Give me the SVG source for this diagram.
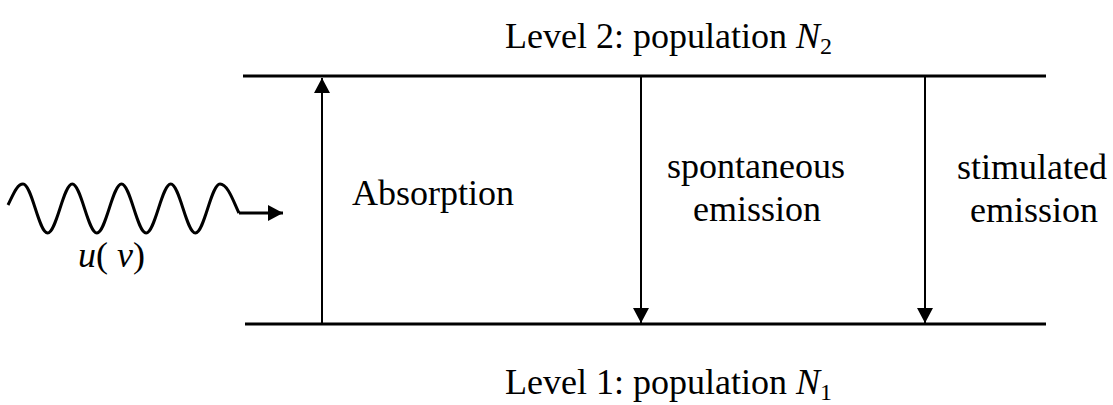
<svg xmlns="http://www.w3.org/2000/svg" width="1113" height="405" viewBox="0 0 1113 405">
<style>
.t{font-family:"Liberation Serif","Times New Roman",serif;font-size:36px;fill:#000}
.i{font-style:italic}
.lvl{stroke:#000;stroke-width:3;fill:none}
.arr{stroke:#000;stroke-width:2;fill:none}
</style>
<defs>
<marker id="ah" viewBox="0 0 15 16" refX="15" refY="8" markerWidth="15" markerHeight="16" markerUnits="userSpaceOnUse" orient="auto">
<path d="M0,0 L15,8 L0,16 Z" fill="#000"/>
</marker>
</defs>
<g id="level2">
<line class="lvl" x1="243" y1="76" x2="1046" y2="76"/>
<text class="t" x="505" y="48">Level 2: population <tspan class="i">N</tspan><tspan font-size="24" dy="6">2</tspan></text>
</g>
<g id="level1">
<line class="lvl" x1="245" y1="324" x2="1046" y2="324"/>
<text class="t" x="505" y="394">Level 1: population <tspan class="i">N</tspan><tspan font-size="24" dy="6">1</tspan></text>
</g>
<g id="wave">
<path class="lvl" d="M8,205 C13,195 17,184 23,184 C31.9,184 38.7,233 47.6,233 S63.4,184 72.25,184 S88,233 96.9,233 S112.6,184 121.5,184 S137.2,233 146.1,233 S161.9,184 170.75,184 S186.5,233 195.4,233 S211.1,184 220,184 C228,184 234,203 239,213"/>
<text class="t" x="78" y="267" font-size="30"><tspan class="i">u</tspan>( <tspan class="i">ν</tspan>)</text>
</g>
<g id="absorption">
<text class="t" x="352" y="205">Absorption</text>
</g>
<g id="spontaneous">
<text class="t" text-anchor="middle" x="756" y="178">spontaneous</text>
<text class="t" text-anchor="middle" x="757" y="221">emission</text>
</g>
<g id="stimulated">
<text class="t" text-anchor="middle" x="1032" y="179">stimulated</text>
<text class="t" text-anchor="middle" x="1034" y="222">emission</text>
</g>
<g id="connectors">
<line class="lvl" x1="239" y1="213" x2="283" y2="213" marker-end="url(#ah)"/>
<line class="arr" x1="322" y1="324" x2="322" y2="78" marker-end="url(#ah)"/>
<line class="arr" x1="641" y1="76" x2="641" y2="323" marker-end="url(#ah)"/>
<line class="arr" x1="925" y1="76" x2="925" y2="323" marker-end="url(#ah)"/>
</g>
</svg>
